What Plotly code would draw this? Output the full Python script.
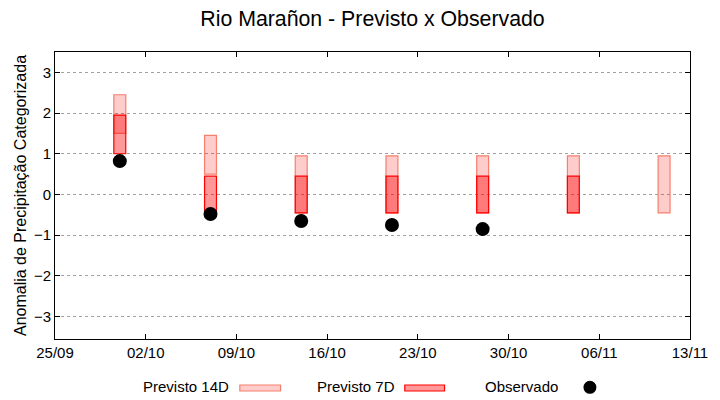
import plotly.graph_objects as go

dates = ["2023-09-30", "2023-10-07", "2023-10-14", "2023-10-21", "2023-10-28", "2023-11-04", "2023-11-11"]
p14_low = [1.5, 0.5, -0.45, -0.45, -0.45, -0.45, -0.45]
p14_high = [2.45, 1.45, 0.95, 0.95, 0.95, 0.95, 0.95]
p7_dates = dates[:6]
p7_low = [1.0, -0.45, -0.45, -0.45, -0.45, -0.45]
p7_high = [1.95, 0.45, 0.45, 0.45, 0.45, 0.45]
obs_dates = dates[:5]
obs_vals = [0.82, -0.48, -0.65, -0.75, -0.85]
xticks = ["2023-09-25", "2023-10-02", "2023-10-09", "2023-10-16", "2023-10-23", "2023-10-30", "2023-11-06", "2023-11-13"]
yticks = [-3, -2, -1, 0, 1, 2, 3]

DAY = 86400000
FONT = "Liberation Sans, Arial, sans-serif"

fig = go.Figure()
fig.add_trace(go.Bar(
    x=dates, base=p14_low, y=[h - l for h, l in zip(p14_high, p14_low)],
    width=0.92 * DAY, name="Previsto 14D",
    marker=dict(color="rgba(255,0,0,0.2)", line=dict(color="#f4806e", width=1.2)),
))
fig.add_trace(go.Bar(
    x=p7_dates, base=p7_low, y=[h - l for h, l in zip(p7_high, p7_low)],
    width=0.92 * DAY, name="Previsto 7D",
    marker=dict(color="rgba(255,0,0,0.4)", line=dict(color="#ff0000", width=1.2)),
))
fig.add_trace(go.Scatter(
    x=obs_dates, y=obs_vals, mode="markers", name="Observado",
    marker=dict(color="black", size=14),
))

W0, W1, H0, H1 = 55, 694, 52, 339
def px(x):
    return (x - W0) / (W1 - W0)
def py(y):
    return (H1 - y) / (H1 - H0)

annots = []
shapes = []
ty = py(386.5)
for label, right in [("Previsto 14D", 232), ("Previsto 7D", 399), ("Observado", 563)]:
    annots.append(dict(text=label, x=px(right), y=ty, xref="paper", yref="paper",
                       xanchor="right", yanchor="middle", showarrow=False,
                       font=dict(size=15, color="black", family=FONT)))
shapes.append(dict(type="rect", xref="paper", yref="paper", x0=px(241), x1=px(282), y0=py(391), y1=py(385),
                   fillcolor="rgba(255,0,0,0.2)", line=dict(color="#f4806e", width=1.2)))
shapes.append(dict(type="rect", xref="paper", yref="paper", x0=px(407), x1=px(447), y0=py(391), y1=py(385),
                   fillcolor="rgba(255,0,0,0.4)", line=dict(color="#ff0000", width=1.2)))
shapes.append(dict(type="circle", xref="paper", yref="paper", xsizemode="pixel", ysizemode="pixel",
                   xanchor=px(593.3), yanchor=py(387.3), x0=-6.5, x1=6.5, y0=-6.5, y1=6.5,
                   fillcolor="black", line=dict(color="black", width=0)))

fig.update_layout(
    width=720, height=400,
    margin=dict(l=W0, r=720 - W1, t=H0, b=400 - H1),
    paper_bgcolor="white", plot_bgcolor="white",
    barmode="overlay", showlegend=False,
    font=dict(family=FONT, size=15, color="black"),
    title=dict(text="Rio Marañon - Previsto x Observado", x=px(374.5), xref="paper",
               y=1 - 19 / 400, yref="container", yanchor="middle", xanchor="center",
               font=dict(size=21.3, family=FONT, color="black")),
    xaxis=dict(type="date", range=["2023-09-25", "2023-11-13"], tickvals=xticks, tickformat="%d/%m",
               showgrid=False, zeroline=False, showline=True, linecolor="black", linewidth=1,
               mirror="allticks", ticks="inside", ticklen=5, tickcolor="black",
               tickfont=dict(size=15, family=FONT)),
    yaxis=dict(range=[-3.55, 3.5], tickvals=yticks, showgrid=True, gridcolor="#a0a0a0", gridwidth=1,
               griddash="3px,3px", zeroline=False, showline=True, linecolor="black", linewidth=1,
               mirror="allticks", ticks="inside", ticklen=5, tickcolor="black",
               tickfont=dict(size=15, family=FONT),
               title=dict(text="Anomalia de Precipitação Categorizada", font=dict(size=16, family=FONT), standoff=3)),
    annotations=annots, shapes=shapes,
)
fig.write_html("out.html", config={"displayModeBar": False},
               post_script="document.body.style.margin='0';document.body.style.overflow='hidden';")
